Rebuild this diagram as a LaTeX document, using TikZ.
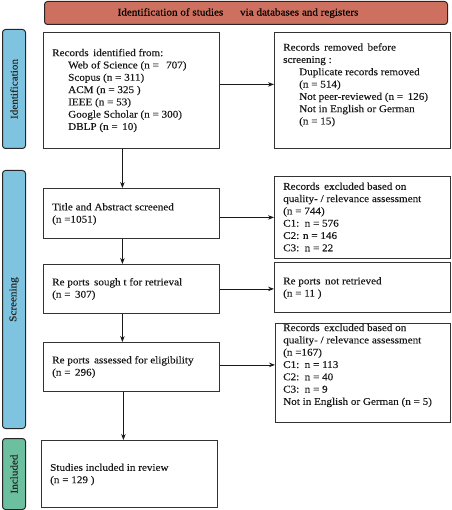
\documentclass[tikz,border=0pt]{standalone}
\usepackage{fontspec}
\setmainfont{Liberation Serif}[FakeStretch=1.08,FakeBold=0.2]
\usetikzlibrary{arrows.meta,calc}
\definecolor{bandblue}{HTML}{7EC4E0}
\definecolor{bandgreen}{HTML}{6CBF9F}
\definecolor{bandred}{HTML}{CE705F}
\definecolor{edgegray}{HTML}{333333}
\begin{document}
\begin{tikzpicture}[x=1pt,y=-1pt,
  box/.style={draw=edgegray,line width=0.8pt,rectangle,inner sep=0pt,anchor=north west},
  txt/.style={anchor=west,align=left,inner sep=0pt,font=\fontsize{10.3}{12.3}\selectfont,text=black!90},
  band/.style={draw=black!85,line width=1pt,rounded corners=3pt,rectangle,inner sep=0pt,anchor=north west},
  bandlabel/.style={rotate=90,inner sep=0pt,font=\fontsize{10.3}{12}\selectfont,text=black!85},
  arr/.style={draw=black!90,line width=0.8pt,-{Stealth[length=6pt,width=4.5pt]}}]
\useasboundingbox (0,0) rectangle (451,510);
% banner
\node[band,fill=bandred,minimum width=403pt,minimum height=23pt] (ban) at (44,1) {};
\node[inner sep=0pt,font=\fontsize{10.3}{12}\selectfont] (bant) at (238,13) {Identification of studies\hspace{14pt} via databases and registers};
% side bands
\node[band,fill=bandblue,minimum width=23pt,minimum height=119pt] (sid) at (2,29) {};
\node[bandlabel] (sidt) at (sid.center) {Identification};
\node[band,fill=bandblue,minimum width=23pt,minimum height=258pt] (ssc) at (2,170) {};
\node[bandlabel] (ssct) at (ssc.center) {Screening};
\node[band,fill=bandgreen,minimum width=23pt,minimum height=71pt] (sin) at (2,438) {};
\node[bandlabel] (sint) at (sin.center) {Included};
% boxes
\node[box,minimum width=176pt,minimum height=116pt] (b1) at (43,32) {};
\node[box,minimum width=176pt,minimum height=116pt] (b2) at (274,32) {};
\node[box,minimum width=176pt,minimum height=50pt] (b3) at (43,188) {};
\node[box,minimum width=176pt,minimum height=82pt] (b4) at (274,176) {};
\node[box,minimum width=176pt,minimum height=49pt] (b5) at (43,264) {};
\node[box,minimum width=176pt,minimum height=50pt] (b6) at (274,262) {};
\node[box,minimum width=176pt,minimum height=49pt] (b7) at (43,342) {};
\node[box,minimum width=175pt,minimum height=99pt] (b8) at (275,323) {};
\node[box,minimum width=176pt,minimum height=67pt] (b9) at (41,440) {};
% texts
\node[txt] (t1) at (52,90.5) {Records\, identified from:\\
\hspace*{16pt}Web of Science (n = \, 707)\\
\hspace*{16pt}Scopus (n = 311)\\
\hspace*{16pt}ACM (n = 325 )\\
\hspace*{16pt}IEEE (n = 53)\\
\hspace*{16pt}Google Scholar (n = 300)\\
\hspace*{16pt}DBLP (n = \,10)};
\node[txt] (t2) at (283,85) {Records\, removed\, before\\
screening :\\
\hspace*{16pt}Duplicate records removed\\
\hspace*{16pt}(n = 514)\\
\hspace*{16pt}Not peer-reviewed (n = \,126)\\
\hspace*{16pt}Not in English or German\\
\hspace*{16pt}(n = 15)};
\node[txt] (t3) at (52,214) {Title and Abstract screened\\(n =1051)};
\node[txt] (t4) at (283,217) {Records\, excluded based on\\
quality- / relevance assessment\\
(n = 744)\\
C1:\, n = 576\\
C2: n = 146\\
C3:\, n = 22};
\node[txt] (t5) at (52,289) {Re ports\, sough t for retrieval\\(n = \,307)};
\node[txt] (t6) at (283,288) {Re ports\, not retrieved\\(n = 11 )};
\node[txt] (t7) at (52,367) {Re ports\, assessed for eligibility\\(n = \,296)};
\node[txt] (t8) at (283,365.5) {Records\, excluded based on\\
quality- / relevance assessment\\
(n =167)\\
C1:\, n = 113\\
C2:\, n = 40\\
C3:\, n = 9\\
Not in English or German (n = 5)};
\node[txt] (t9) at (50,474.5) {Studies included in review\\(n = 129 )};
% arrows
\draw[arr] ([yshift=6pt]b1.east) -- ([yshift=6pt]b1.east -| b2.west);
\draw[arr] (b4.west -| b3.east) -- (b4.west);
\draw[arr] (b5.east) -- (b5.east -| b6.west);
\draw[arr] ([yshift=2pt]b7.east) -- ([yshift=2pt]b7.east -| b8.west);
\draw[arr] ([xshift=-9pt]b1.south) -- ([xshift=-9pt]b1.south |- b3.north);
\draw[arr] ([xshift=-9pt]b3.south) -- ([xshift=-9pt]b3.south |- b5.north);
\draw[arr] ([xshift=-9pt]b5.south) -- ([xshift=-9pt]b5.south |- b7.north);
\draw[arr] ([xshift=-8pt]b7.south) -- ([xshift=-8pt]b7.south |- b9.north);
\end{tikzpicture}
\end{document}
